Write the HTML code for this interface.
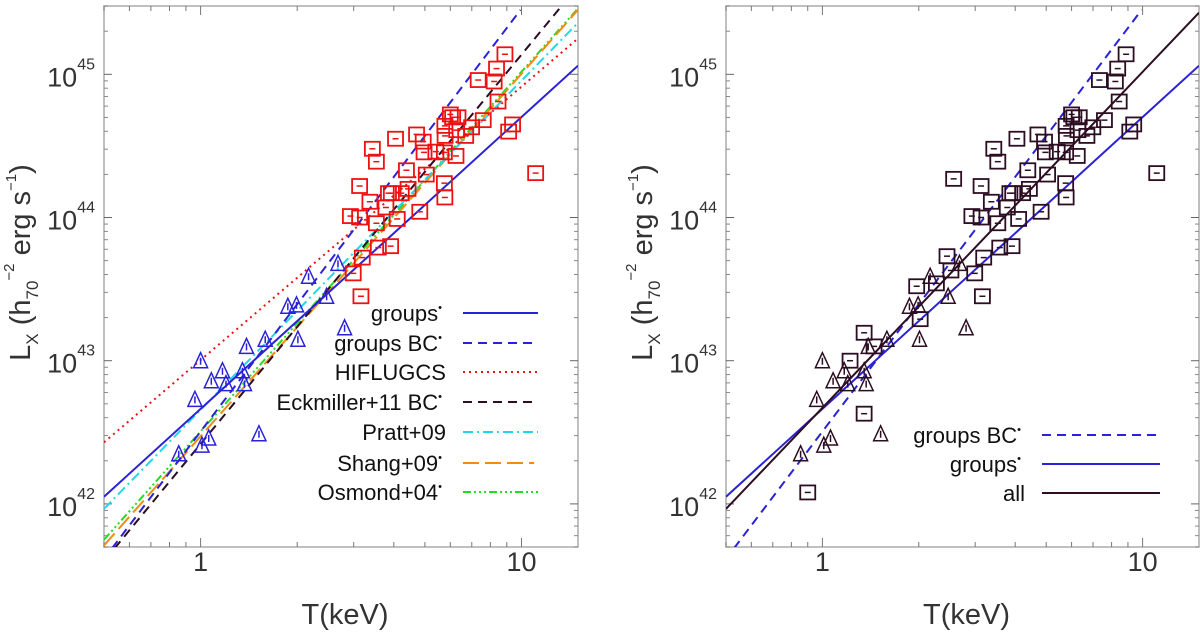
<!DOCTYPE html>
<html><head><meta charset="utf-8"><style>
html,body{margin:0;padding:0;background:#fff;}
svg{display:block;font-family:"Liberation Sans",sans-serif;}
</style></head><body>
<svg id="fig" width="1200" height="636" viewBox="0 0 1200 636" xmlns="http://www.w3.org/2000/svg"></svg>
<script>
// ---- data (T in keV, log10 Lx) ----
const triT = [0.855,0.96,1.0,1.01,1.06,1.08,1.17,1.2,1.35,1.37,1.39,1.52,1.59,1.87,1.99,2.01,2.17,2.47,2.68,2.81];
const triL = [42.35,42.73,43.0,42.41,42.46,42.86,42.93,42.84,42.93,42.84,43.10,42.49,43.15,43.38,43.39,43.15,43.59,43.45,43.68,43.23];
const sqT = [0.90,1.35,1.35,1.45,1.22,1.97,2.02,2.27,2.45,2.52,2.57,2.93,2.99,3.13,3.13,3.19,3.16,3.37,3.43,3.53,3.53,3.58,3.78,3.85,3.91,3.93,4.05,4.10,4.22,4.38,4.43,4.71,4.82,4.94,4.97,5.05,5.41,5.75,5.77,5.75,5.78,5.77,6.0,6.1,6.34,6.25,6.28,6.7,6.99,7.6,7.33,8.22,8.36,8.45,8.88,9.12,9.38,11.07];
const sqL = [42.08,43.195,42.63,43.10,43.0,43.52,43.29,43.54,43.73,43.63,44.27,44.01,43.61,44.0,44.22,43.72,43.45,44.11,44.48,44.39,43.96,43.79,44.07,44.17,43.80,44.17,44.55,43.99,44.17,44.33,44.20,44.58,44.04,44.53,44.455,44.30,44.46,44.24,44.14,44.455,44.57,44.64,44.72,44.70,44.70,44.43,44.61,44.57,44.63,44.68,44.96,44.95,45.04,44.81,45.14,44.60,44.65,44.31];
const leftSqStart = 11;
// fit lines: [logT0, logL0, logT1, logL1]
const fitGroups   = [-0.301,42.05,1.176,45.06];
const fitGroupsBC = [-0.276,41.69,0.997,45.45];
const fitHiflugcs = [-0.301,42.43,1.176,45.25];
const fitEckmiller= [-0.268,41.69,1.126,45.48];
const fitPratt    = [-0.301,41.965,1.176,45.36];
const fitShang    = [-0.301,41.71,1.176,45.45];
const fitOsmond   = [-0.301,41.75,1.176,45.46];
const fitAll      = [-0.301,41.965,1.176,45.43];
const yTicks = [42,43,44,45];
const xTickLabels = [1,10];

const NS="http://www.w3.org/2000/svg";
const svg=document.getElementById('fig');
function mk(tag,attrs,parent){const e=document.createElementNS(NS,tag);for(const k in attrs)e.setAttribute(k,attrs[k]);(parent||svg).appendChild(e);return e;}

const X0=Math.log10(0.5),X1=Math.log10(15),Y0=Math.log10(5e41),Y1=Math.log10(3e45);
function makePanel(left,right,top,bottom,name){
  const g=mk('g',{});
  
  
  const sx=lt=>left+(lt-X0)/(X1-X0)*(right-left);
  const sy=ll=>bottom-(ll-Y0)/(Y1-Y0)*(bottom-top);
  const clipId='clip-'+name;
  const cp=mk('clipPath',{id:clipId},g);mk('rect',{x:left,y:top,width:right-left,height:bottom-top},cp);
  const frame=mk('rect',{x:left,y:top,width:right-left,height:bottom-top,fill:'none',stroke:'#aaa','stroke-width':1.5},g);
  
  
  yTicks.forEach(v=>{
    const y=sy(v);
    mk('line',{x1:left,x2:left+8,y1:y,y2:y,stroke:'#666','stroke-width':1},g);
    mk('line',{x1:right,x2:right-8,y1:y,y2:y,stroke:'#666','stroke-width':1},g);
    const t=mk('text',{x:left-9,y:y+12,'text-anchor':'end','font-size':27,fill:'#333'},g);
    
    
    const a=document.createElementNS(NS,'tspan');a.textContent='10';t.appendChild(a);
    const b=document.createElementNS(NS,'tspan');b.setAttribute('dy','-17');b.setAttribute('font-size','16');b.textContent=String(v);t.appendChild(b);
  });
  for(let d=41;d<=45;d++)for(let m=2;m<=9;m++){const lv=d+Math.log10(m);if(lv<Y0||lv>Y1)continue;const y=sy(lv);
    mk('line',{x1:left,x2:left+4,y1:y,y2:y,stroke:'#888'},g);mk('line',{x1:right,x2:right-4,y1:y,y2:y,stroke:'#888'},g);}
  [0.5,0.6,0.7,0.8,0.9,1,2,3,4,5,6,7,8,9,10].forEach(v=>{const x=sx(Math.log10(v));const L=(v===1||v===10)?9:5;
    mk('line',{x1:x,x2:x,y1:bottom,y2:bottom-L,stroke:'#777'},g);mk('line',{x1:x,x2:x,y1:top,y2:top+L,stroke:'#777'},g);});
  xTickLabels.forEach(v=>{const t=mk('text',{x:sx(Math.log10(v)),y:bottom+24,'text-anchor':'middle','font-size':27,fill:'#333'},g);t.textContent=String(v);
    
    });
  const xt=mk('text',{x:(left+right)/2+4,y:bottom+77,'text-anchor':'middle','font-size':29,fill:'#333'},g);xt.textContent='T(keV)';
  
  
  const yt=mk('text',{x:0,y:0,'text-anchor':'middle','font-size':29,fill:'#333',transform:`translate(${left-74},${(top+bottom)/2-14}) rotate(-90)`},g);
  
  
  const parts=[['L',0,29],['X',8,17],['  (h',-8,29],['70',8,17],['−2',-24,15],['  erg  s',16,29],['−1',-14,15],[')',14,29]];
  parts.forEach(p=>{const s=document.createElementNS(NS,'tspan');s.setAttribute('dy',p[1]);s.setAttribute('font-size',p[2]);s.setAttribute('xml:space','preserve');s.textContent=p[0];yt.appendChild(s);});
  const plot=mk('g',{'clip-path':`url(#${clipId})`},g);
  return {g,plot,sx,sy};
}
function fitLine(P,arr,color,dash,width,name){
  const l=mk('line',{x1:P.sx(arr[0]),y1:P.sy(arr[1]),x2:P.sx(arr[2]),y2:P.sy(arr[3]),stroke:color,'stroke-width':width||2,'stroke-dasharray':dash||'none'},P.plot);
  
  
}
function tri(P,t,l,color){
  const x=P.sx(Math.log10(t)),y=P.sy(l);
  const p=mk('path',{d:`M${x-7},${y+7}L${x},${y-8}L${x+7},${y+7}Z M${x},${y-3}V${y+4}`,fill:'none',stroke:color,'stroke-width':1.5},P.plot);
  
  
}
function sq(P,t,l,color){
  const x=P.sx(Math.log10(t)),y=P.sy(l);
  const r=mk('rect',{x:x-7.5,y:y-7,width:15,height:14,fill:'none',stroke:color,'stroke-width':1.8},P.plot);
  
  
  mk('line',{x1:x-3,x2:x+3,y1:y,y2:y,stroke:color,'stroke-width':1.5},P.plot);
}
function legend(g,xr,xl1,xl2,y,label,sup,color,dash,width){
  const t=mk('text',{x:xr,y:y+8,'text-anchor':'end','font-size':22,fill:'#111'},g);
  t.textContent=label;
  
  
  if(sup){const s=document.createElementNS(NS,'tspan');s.setAttribute('dy','-10');s.setAttribute('font-size','11');s.textContent='•';t.appendChild(s);}
  mk('line',{x1:xl1,x2:xl2,y1:y,y2:y,stroke:color,'stroke-width':width||2,'stroke-dasharray':dash||'none'},g);
}
const BLUE='#2a22d6',RED='#ee1111',DARK='#2c0d22';
const A=makePanel(104,578,6,547,'left-panel');
fitLine(A,fitHiflugcs,RED,'2 4',2,'hiflugcs-line');
fitLine(A,fitOsmond,'#22dd22','8 3 2 3 2 3 2 3',2,'osmond-line');
fitLine(A,fitShang,'#f08c10','16 6',2,'shang-line');
fitLine(A,fitPratt,'#22d8e8','10 4 2 4',2,'pratt-line');
fitLine(A,fitEckmiller,DARK,'9 6',2,'eckmiller-line');
fitLine(A,fitGroupsBC,BLUE,'9 6',2,'groups-bc-line');
fitLine(A,fitGroups,BLUE,'',2,'groups-line');
for(let i=0;i<triT.length;i++)tri(A,triT[i],triL[i],BLUE);
for(let i=leftSqStart;i<sqT.length;i++)sq(A,sqT[i],sqL[i],RED);
const lg=mk('g',{});


legend(lg,442,463,538,313,'groups',true,BLUE,'',2);
legend(lg,442,463,538,343,'groups BC',true,BLUE,'9 6',2);
legend(lg,446,463,538,372,'HIFLUGCS',false,RED,'2 4',2);
legend(lg,442,463,538,402,'Eckmiller+11 BC',true,DARK,'9 6',2);
legend(lg,446,463,538,432,'Pratt+09',false,'#22d8e8','10 4 2 4',2);
legend(lg,442,463,534,463,'Shang+09',true,'#f08c10','16 6',2);
legend(lg,442,463,538,492,'Osmond+04',true,'#22dd22','8 3 2 3 2 3 2 3',2);
const B=makePanel(726,1199,6,547,'right-panel');
fitLine(B,fitGroupsBC,BLUE,'9 6',2,'groups-bc-line');
fitLine(B,fitGroups,BLUE,'',2,'groups-line');
fitLine(B,fitAll,DARK,'',2,'all-line');
for(let i=0;i<triT.length;i++)tri(B,triT[i],triL[i],DARK);
for(let i=0;i<sqT.length;i++)sq(B,sqT[i],sqL[i],DARK);
const lg2=mk('g',{});


legend(lg2,1021,1042,1160,435,'groups BC',true,BLUE,'9 6',2);
legend(lg2,1021,1042,1160,464,'groups',true,BLUE,'',2);
legend(lg2,1025,1042,1160,493,'all',false,DARK,'',2);
</script>
</body></html>
